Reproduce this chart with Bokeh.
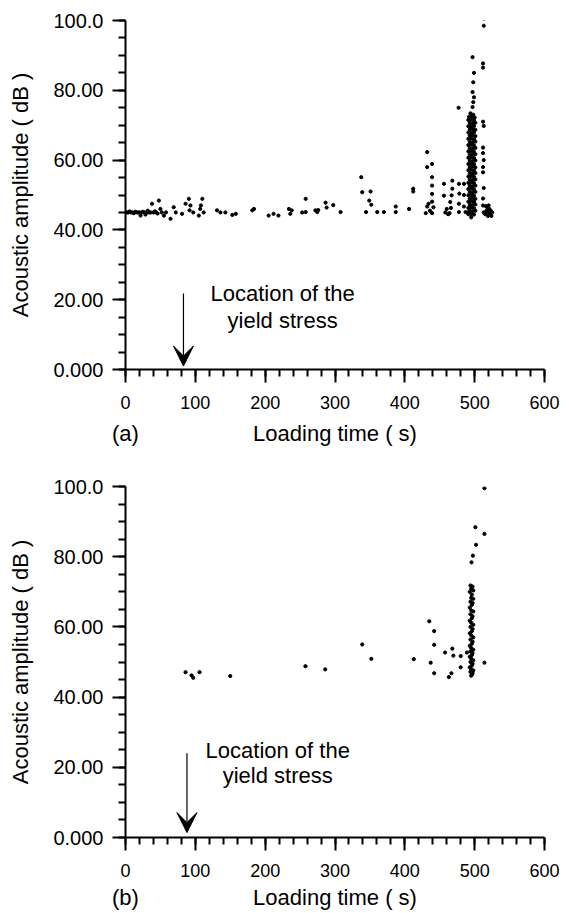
from bokeh.plotting import figure
from bokeh.layouts import column
from bokeh.models import FixedTicker, Label, Arrow, VeeHead, LinearAxis
from bokeh.embed import file_html
from bokeh.resources import INLINE

FONT = "Liberation Sans"

# ---------------- axes ----------------
y_ticks = [0, 20, 40, 60, 80, 100]
y_tick_labels = ["0.000", "20.00", "40.00", "60.00", "80.00", "100.0"]
y_minor = [0, 5, 10, 15, 20, 25, 30, 35, 40, 45, 50, 55, 60, 65, 70, 75, 80, 85, 90, 95, 100]
x_ticks = [0, 100, 200, 300, 400, 500, 600]
x_minor = [0, 20, 40, 60, 80, 100, 120, 140, 160, 180, 200, 220, 240, 260, 280, 300,
           320, 340, 360, 380, 400, 420, 440, 460, 480, 500, 520, 540, 560, 580, 600]
x_label = "Loading time ( s)"
y_label = "Acoustic amplitude ( dB )"
note_line1 = "Location of the"
note_line2 = "yield stress"

# ---------------- panel (a): scattered events ----------------
a_t = [2, 4, 6, 8, 10, 12, 14, 16, 18, 20, 21.5, 23, 25, 27, 28.6, 30, 32, 34, 36, 38,
       40, 42, 44, 46, 47.8, 50, 52, 55, 58, 64.5, 69, 72,
       81, 86, 90.7, 91.7, 93, 97, 105, 107, 110, 108, 112,
       131, 136, 143, 153, 158, 181.5, 184, 205, 212, 219, 234, 236, 238, 253, 258, 272,
       258, 274.6, 276, 286.5, 288, 297.5, 308,
       337.6, 339, 351, 349, 352, 344.5, 360.5, 370, 387, 387, 406, 412, 412,
       432, 432, 439, 439, 439, 439, 439, 439, 432, 430, 436, 434, 441,
       456, 456, 468, 468, 467, 465, 464, 458, 460, 462, 466,
       477.5, 478, 477.5, 477.5, 477, 484.7, 484.7, 484.7, 487, 490, 492,
       497, 499, 498, 497, 499, 498, 497,
       513, 513, 512, 512, 512, 513, 512, 512, 513, 512, 512, 513, 512, 512, 513,
       515, 517, 518, 519, 520, 521, 522, 523, 524, 525, 516, 520]
a_db = [45, 45, 45.3, 45, 45, 44.8, 45.2, 45, 45, 45, 44.1, 45, 45.2, 45, 44.4, 45, 45.5, 45, 45, 47.5,
        45, 45.3, 45, 44.7, 48.4, 46, 45, 44.1, 45, 43.2, 46.5, 45,
        44.6, 47.5, 48.9, 45.6, 47, 45, 44.1, 46, 48.9, 47, 45,
        45.6, 45, 45, 44.3, 44.6, 45.6, 46, 44.1, 44.6, 44.1, 46, 44.6, 45.6, 45, 48.9, 45.6,
        45.1, 45.1, 45.7, 47.8, 46.4, 47.1, 45.1,
        55.1, 50.8, 51, 48.4, 47.2, 45.1, 45.1, 45.1, 46.7, 45.1, 46, 51.8, 51,
        62.3, 58, 58.9, 55.1, 52.7, 50.3, 48.1, 44.8, 46.7, 44.8, 45.5, 47.5, 46.5,
        53.2, 49.8, 54.1, 51.8, 49.9, 48, 44.8, 45, 46, 44.5, 46.3,
        53.2, 50.4, 47.5, 45.1, 75, 53.2, 50, 46.7, 45.1, 45, 45,
        89.5, 85, 82.3, 79.5, 78, 76.6, 75.2,
        100.5, 98.5, 87.7, 86.5, 71, 69.8, 63.6, 62, 60, 58, 56.5, 52, 49, 47, 45,
        44.5, 45.5, 46.5, 44, 45, 46, 44.5, 45.5, 44, 45, 46.8, 47]

# panel (a): the dense burst of events near 500 s
a_burst_t = [494, 498,
             492, 496, 500, 491, 495, 499, 493, 497, 501, 491, 495, 499, 493, 497, 501,
             491, 495, 499, 493, 497, 501, 491, 495, 499, 493, 497, 501, 491, 495, 499,
             493, 497, 501, 491, 495, 499, 493, 497, 501, 491, 495, 499, 493, 497, 501,
             491, 495, 499, 493, 497, 501, 491, 495, 499, 493, 497, 501, 491, 495, 499,
             493, 497, 501, 491, 495, 499, 493, 497, 501, 491, 495, 499, 493, 497, 501,
             491, 495, 499, 493, 497, 501, 491, 495, 499, 493, 497, 501, 491, 495, 499,
             493, 497, 501, 491, 495, 499, 495]
a_burst_db = [73.4, 73.0,
              72.4, 72.6, 72.2, 71.5, 71.6, 71.4, 70.6, 70.5, 70.7, 69.7, 69.6, 69.8, 68.8, 68.9, 68.7,
              67.9, 67.8, 68.0, 67.0, 67.1, 66.9, 66.1, 66.2, 66.0, 65.2, 65.1, 65.3, 64.3, 64.4, 64.2,
              63.4, 63.3, 63.5, 62.5, 62.6, 62.4, 61.6, 61.5, 61.7, 60.7, 60.8, 60.6, 59.8, 59.7, 59.9,
              58.9, 59.0, 58.8, 58.0, 58.1, 57.9, 57.1, 57.2, 57.0, 56.2, 56.1, 56.3, 55.3, 55.4, 55.2,
              54.4, 54.3, 54.5, 53.5, 53.6, 53.4, 52.6, 52.5, 52.7, 51.7, 51.8, 51.6, 50.8, 50.7, 50.9,
              49.9, 50.0, 49.8, 49.0, 49.1, 48.9, 48.1, 48.2, 48.0, 47.2, 47.1, 47.3, 46.3, 46.4, 46.2,
              45.4, 45.3, 45.5, 44.5, 44.6, 44.4, 43.6]

# ---------------- panel (b) ----------------
b_t = [86, 94.6, 97, 106, 150,
       257.7, 286, 339, 352, 412.8,
       435, 442, 442, 437, 442,
       457.7, 468, 469.5, 480, 480, 463, 466.7, 489,
       495.5, 497.5, 502, 501, 514, 514, 514]
b_db = [47.1, 46.2, 45.5, 47.1, 46,
        48.8, 47.9, 55, 50.9, 50.8,
        61.6, 58.8, 54.9, 49.8, 46.8,
        52.7, 53.8, 51.8, 51.7, 48.5, 45.7, 46.8, 52.7,
        78.4, 80.3, 83.4, 88.4, 86.5, 99.5, 49.8]

b_burst_t = [494, 497, 495, 498, 493, 496, 495, 498, 494, 497, 496, 493, 495, 498,
             494, 497, 496, 493, 495, 498, 494, 497, 496, 493, 495, 498, 494, 497,
             496, 493, 495, 498, 494, 497, 496, 493, 495, 498, 494, 497, 496, 493,
             495, 498, 494, 497, 496, 495]
b_burst_db = [71.8, 71.5, 70.9, 70.4, 70.0, 69.2, 68.3, 68.0, 67.2, 66.8, 66.3, 65.5, 64.7, 64.4,
              63.6, 63.0, 62.5, 61.8, 61.2, 60.6, 60.0, 59.4, 58.8, 58.2, 57.6, 57.0, 56.4, 55.8,
              55.2, 54.6, 54.0, 53.5, 53.0, 52.5, 52.0, 51.5, 51.0, 50.5, 50.0, 49.5, 49.0, 48.5,
              48.0, 47.6, 47.2, 46.8, 46.4, 46.1]

# second row under the x axis: panel tag at t=0 and the axis title centred
caption_pos = [0, 300]


def style_axes(p, tag, caption_standoff):
    p.outline_line_color = None
    p.xgrid.visible = False
    p.ygrid.visible = False
    p.xaxis.ticker = FixedTicker(ticks=x_ticks, minor_ticks=x_minor)
    p.yaxis.ticker = FixedTicker(ticks=y_ticks, minor_ticks=y_minor)
    p.yaxis.major_label_overrides = {v: s for v, s in zip(y_ticks, y_tick_labels)}
    for ax in (p.xaxis[0], p.yaxis[0]):
        ax.axis_line_width = 2
        ax.axis_line_color = "black"
        ax.major_tick_line_width = 2
        ax.minor_tick_line_width = 2
        ax.major_tick_line_color = "black"
        ax.minor_tick_line_color = "black"
        ax.major_tick_in = 0
        ax.minor_tick_in = 0
        ax.major_tick_out = 13
        ax.minor_tick_out = 7
        ax.major_label_text_font = FONT
        ax.major_label_text_color = "black"
        ax.axis_label_text_font = FONT
        ax.axis_label_text_font_size = "22px"
        ax.axis_label_text_font_style = "normal"
        ax.axis_label_text_color = "black"
    p.xaxis.major_label_text_font_size = "18px"
    p.yaxis.major_label_text_font_size = "20px"
    p.yaxis.axis_label = y_label
    p.xaxis.major_label_standoff = 13
    p.yaxis.major_label_standoff = 9
    p.yaxis.axis_label_standoff = 17

    cap = LinearAxis(ticker=FixedTicker(ticks=caption_pos, minor_ticks=[]),
                     major_label_overrides={caption_pos[0]: tag, caption_pos[1]: x_label},
                     axis_line_color=None, major_tick_line_color=None,
                     minor_tick_line_color=None, major_tick_out=0, major_tick_in=0,
                     major_label_standoff=caption_standoff,
                     major_label_text_font=FONT, major_label_text_font_size="22px",
                     major_label_text_color="black")
    p.add_layout(cap, "below")


def make_panel(height, top, bottom, right, t, db, bt, bdb, tag,
               arrow_t, arrow_y0, arrow_y1, note_t, note_y1, note_y2, caption_standoff):
    p = figure(width=569, height=height, x_range=(0, 600), y_range=(0, 100),
               output_backend="svg", toolbar_location=None,
               min_border_left=125, min_border_right=right,
               min_border_top=top, min_border_bottom=bottom)
    style_axes(p, tag, caption_standoff)
    p.scatter(t, db, size=3.2, marker="circle", color="black")
    p.scatter(bt, bdb, size=3.2, marker="circle", color="black")
    p.add_layout(Arrow(end=VeeHead(size=20, fill_color="black", line_color="black"),
                       x_start=arrow_t, y_start=arrow_y0, x_end=arrow_t, y_end=arrow_y1,
                       line_color="black", line_width=1.2))
    for txt, yy in ((note_line1, note_y1), (note_line2, note_y2)):
        p.add_layout(Label(x=note_t, y=yy, text=txt, text_align="center",
                           text_baseline="middle", text_font=FONT,
                           text_font_size="22px", text_color="black"))
    return p


p1 = make_panel(449, 20, 80, 25, a_t, a_db, a_burst_t, a_burst_db, "(a)",
                83, 21.8, 1.0, 225, 21.8, 14.0, 9)
p2 = make_panel(464, 37, 76, 21, b_t, b_db, b_burst_t, b_burst_db, "(b)",
                88, 24.0, 1.4, 218, 24.8, 17.7, 5)

layout = column(p1, p2)
open("out.html", "w").write(file_html(layout, INLINE))
